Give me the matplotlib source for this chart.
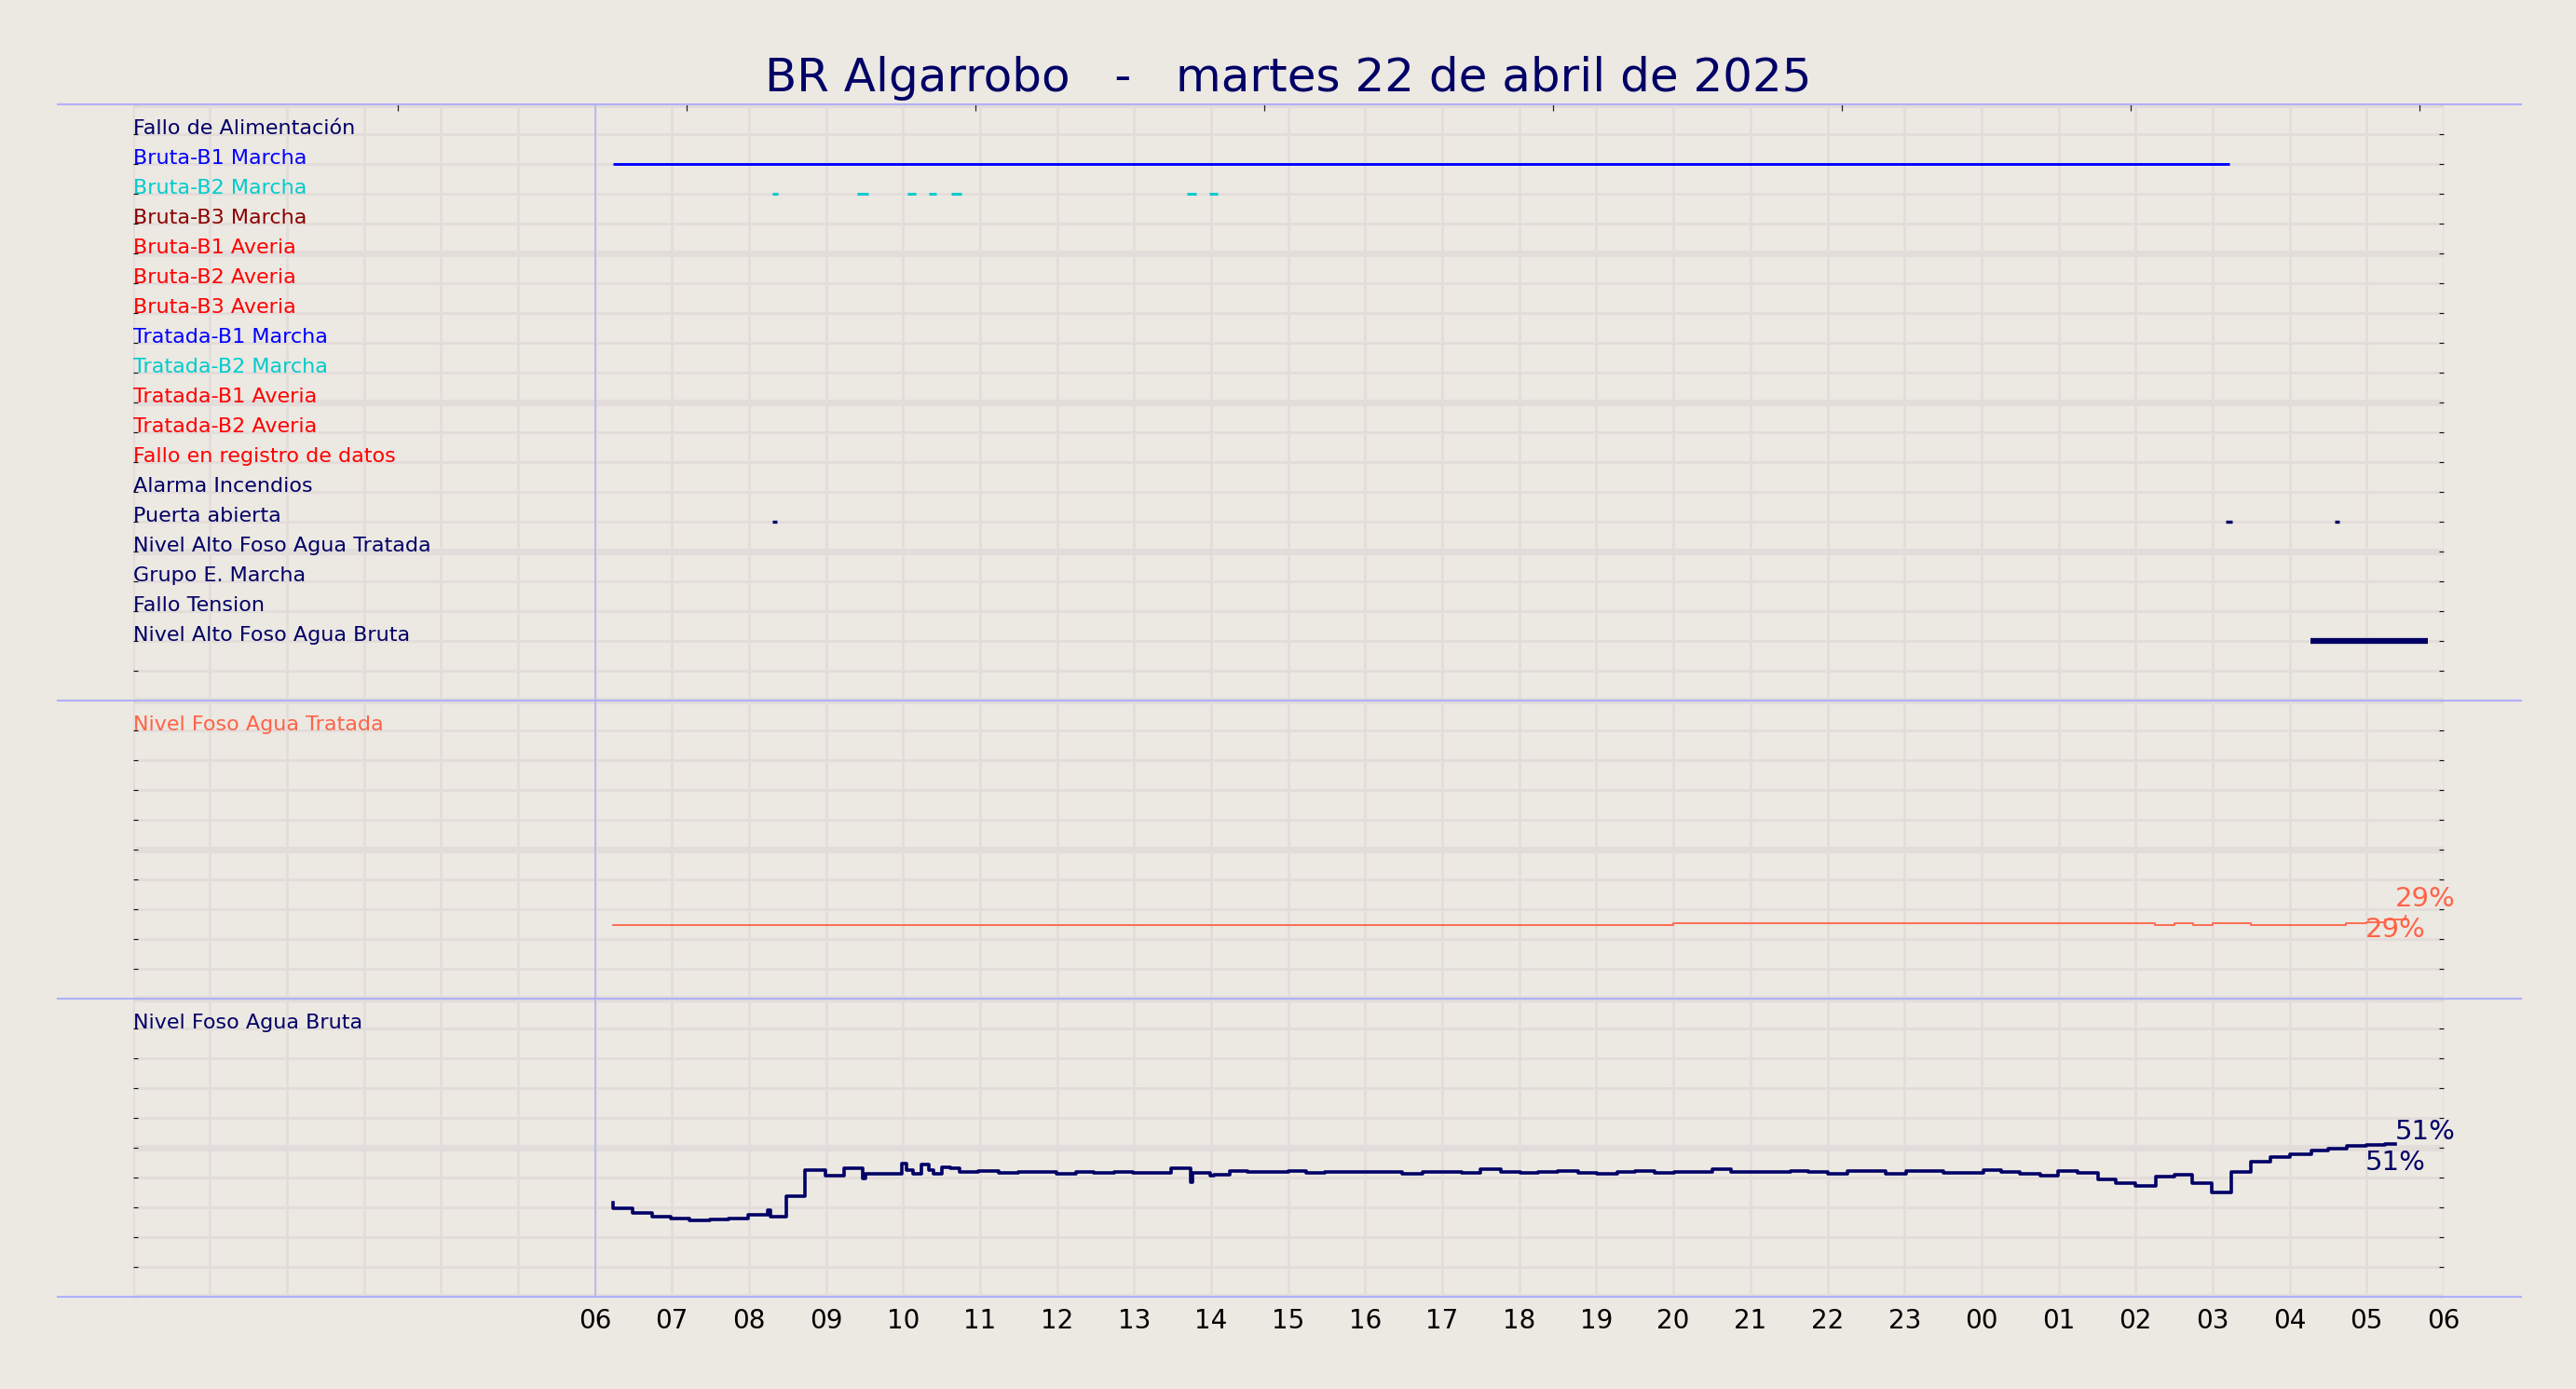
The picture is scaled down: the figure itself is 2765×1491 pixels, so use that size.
import matplotlib
matplotlib.use("Agg")
import matplotlib.pyplot as plt
import matplotlib.transforms as mtransforms
from matplotlib.lines import Line2D

# ---------------- data ----------------
title = "BR Algarrobo   -   martes 22 de abril de 2025"

signal_names = [
    "Fallo de Alimentación", "Bruta-B1 Marcha", "Bruta-B2 Marcha", "Bruta-B3 Marcha",
    "Bruta-B1 Averia", "Bruta-B2 Averia", "Bruta-B3 Averia", "Tratada-B1 Marcha",
    "Tratada-B2 Marcha", "Tratada-B1 Averia", "Tratada-B2 Averia",
    "Fallo en registro de datos", "Alarma Incendios", "Puerta abierta",
    "Nivel Alto Foso Agua Tratada", "Grupo E. Marcha", "Fallo Tension",
    "Nivel Alto Foso Agua Bruta",
]
signal_colors = [
    "#000066", "#0000ff", "#00cccc", "#8b0000",
    "#ff0000", "#ff0000", "#ff0000", "#0000ff",
    "#00cccc", "#ff0000", "#ff0000",
    "#ff0000", "#000066", "#000066",
    "#000066", "#000066", "#000066",
    "#000066",
]

# event intervals, hours since 00:00 of 22 April
bruta_b1_marcha = [(6.236, 27.22)]
bruta_b2_marcha = [(8.305, 8.37), (9.40, 9.55), (10.06, 10.17), (10.33, 10.43),
                   (10.63, 10.76), (13.69, 13.80), (13.98, 14.08)]
puerta_abierta = [(8.30, 8.36), (27.17, 27.26), (28.58, 28.64)]
nivel_alto_bruta = [(28.27, 29.80)]

# analog levels (%), step series
tratada_t = [6.24, 20.00, 26.25, 26.50, 26.75, 27.00, 27.50, 28.73, 29.00, 29.24, 29.50]
tratada_v = [24.8, 25.3, 24.8, 25.3, 24.8, 25.3, 24.9, 25.4, 25.8, 26.6, 27.8]

bruta_t = [6.23, 6.24, 6.49, 6.74, 6.99, 7.23, 7.49, 7.74, 7.99, 8.24, 8.28, 8.48,
           8.73, 8.99, 9.24, 9.47, 9.51, 9.98, 10.05, 10.13, 10.24, 10.33, 10.39,
           10.50, 10.61, 10.73, 10.98, 11.24, 11.49, 11.99, 12.24, 12.48, 12.74,
           12.98, 13.48, 13.73, 13.76, 13.99, 14.04, 14.24, 14.47, 15.00, 15.23,
           15.48, 16.48, 16.75, 17.25, 17.50, 17.76, 18.02, 18.25, 18.50, 18.76,
           19.01, 19.27, 19.50, 19.76, 20.01, 20.50, 20.75, 21.52, 21.75, 22.01,
           22.26, 22.75, 23.02, 23.50, 24.02, 24.25, 24.50, 24.76, 24.99, 25.25,
           25.51, 25.74, 26.00, 26.26, 26.50, 26.74, 26.99, 27.24, 27.50, 27.75,
           28.00, 28.28, 28.50, 28.74, 29.00, 29.24, 29.37]
bruta_v = [31.7, 29.9, 28.1, 27.0, 26.4, 25.8, 26.1, 26.5, 27.7, 29.1, 27.0, 34.0,
           42.6, 40.8, 43.2, 39.9, 41.5, 44.7, 42.7, 41.5, 44.5, 42.7, 41.3,
           43.7, 43.1, 42.0, 42.4, 41.7, 42.1, 41.4, 42.1, 41.6, 42.1,
           41.7, 43.1, 38.7, 41.8, 40.8, 41.2, 42.4, 42.0, 42.4, 41.6,
           42.1, 41.3, 42.1, 41.6, 43.0, 42.0, 41.6, 42.0, 42.3, 41.7,
           41.3, 42.0, 42.3, 41.7, 42.1, 42.8, 42.1, 42.3, 42.0, 41.3,
           42.3, 41.4, 42.3, 41.7, 42.5, 42.0, 41.5, 40.8, 42.3, 41.6,
           39.5, 38.4, 37.3, 40.5, 41.1, 38.4, 35.1, 42.0, 45.4, 47.0,
           48.0, 49.2, 49.8, 50.6, 50.9, 51.3, 51.3]

end_label_text = ["29%", "51%"]
end_label_value = [29, 51]

hour_ticks = list(range(0, 31))
hour_labels = ["", "", "", "", "", "",
               "06", "07", "08", "09", "10", "11", "12", "13", "14", "15", "16",
               "17", "18", "19", "20", "21", "22", "23", "00", "01", "02", "03",
               "04", "05", "06"]
top_ticks = [3.44, 7.19, 10.94, 14.69, 18.44, 22.19, 25.94, 29.69]
day_start = 6

# ---------------- style ----------------
BG = "#ece8e2"
GRID = "#e2dcda"
SEP = "#b0b0fa"
NAVY = "#000066"
TOMATO = "#ff6347"

W, H, DPI = 2765, 1491, 100
fig = plt.figure(figsize=(W / DPI, H / DPI), dpi=DPI, facecolor=BG)

left, width = 0.05154, 0.8971
bottom0, total_h = 0.0661, 0.8589
rh = total_h / 40.0

ax_top = fig.add_axes([left, bottom0 + 20 * rh, width, 20 * rh])
ax_mid = fig.add_axes([left, bottom0 + 10 * rh, width, 10 * rh])
ax_bot = fig.add_axes([left, bottom0, width, 10 * rh])


def style(ax, ymajor, yminor):
    ax.set_facecolor(BG)
    for s in ax.spines.values():
        s.set_visible(False)
    ax.set_xlim(0, 30)
    ax.set_xticks(hour_ticks)
    ax.set_yticks(ymajor)
    ax.set_yticks(yminor, minor=True)
    ax.grid(True, which="major", axis="x", color=GRID, lw=1.8)
    ax.grid(True, which="major", axis="y", color=GRID, lw=5.0)
    ax.grid(True, which="minor", axis="y", color=GRID, lw=2.0)
    ax.tick_params(axis="y", which="both", direction="in", left=True, right=True,
                   length=3.6, width=0.8, color="#111111", labelleft=False)
    ax.tick_params(axis="x", which="both", length=0, labelbottom=False)
    ax.set_axisbelow(True)
    ax.axvline(day_start, color=SEP, lw=1.1, zorder=1.5)


style(ax_top, [0, 5, 10, 15, 20], list(range(21)))
ax_top.set_ylim(20, 0)
style(ax_mid, [0, 50, 100], list(range(0, 101, 10)))
ax_mid.set_ylim(0, 100)
style(ax_bot, [0, 50, 100], list(range(0, 101, 10)))
ax_bot.set_ylim(0, 100)

ax_bot.set_xticklabels(hour_labels)
ax_bot.tick_params(axis="x", labelbottom=True, labelsize=20, pad=8, labelcolor="black")

# top tick marks
tw = ax_top.twiny()
tw.set_xlim(0, 30)
tw.set_xticks(top_ticks)
tw.tick_params(axis="x", direction="in", length=5, width=0.9, color="#222222",
               labeltop=False, top=True, bottom=False)
for s in tw.spines.values():
    s.set_visible(False)

# signal labels and events
for i, (name, col) in enumerate(zip(signal_names, signal_colors)):
    ax_top.text(0, i + 1, name, color=col, fontsize=16, ha="left", va="baseline")

events = {
    "Bruta-B1 Marcha": (bruta_b1_marcha, 2.1),
    "Bruta-B2 Marcha": (bruta_b2_marcha, 2.2),
    "Puerta abierta": (puerta_abierta, 2.4),
    "Nivel Alto Foso Agua Bruta": (nivel_alto_bruta, 4.5),
}
for name, (ivals, lw) in events.items():
    i = signal_names.index(name)
    for s, e in ivals:
        ax_top.plot([s, e], [i + 1, i + 1], color=signal_colors[i], lw=lw,
                    solid_capstyle="butt", zorder=3)

# analog panels
ax_mid.text(0, 90, "Nivel Foso Agua Tratada", color=TOMATO, fontsize=16,
            ha="left", va="baseline")
ax_bot.text(0, 90, "Nivel Foso Agua Bruta", color=NAVY, fontsize=16,
            ha="left", va="baseline")
ax_mid.plot(tratada_t, tratada_v, drawstyle="steps-post", color=TOMATO, lw=1.3, zorder=3)
ax_bot.plot(bruta_t, bruta_v, drawstyle="steps-post", color=NAVY, lw=2.6, zorder=3)

label_x = bruta_t[-1]
for ax, txt, val, col in zip([ax_mid, ax_bot], end_label_text, end_label_value, [TOMATO, NAVY]):
    ax.annotate(txt, (label_x, val), xytext=(0, 0), textcoords="offset points",
                ha="left", va="bottom", fontsize=21, color=col, zorder=4)
    ax.annotate(txt, (label_x, val), xytext=(0, -3.6), textcoords="offset points",
                ha="center", va="top", fontsize=21, color=col, zorder=4)

# separator lines
x0, x1 = 62 / W, 2706 / W
for ax, yy in [(ax_top, 1), (ax_top, 0), (ax_mid, 0), (ax_bot, 0)]:
    tr = mtransforms.blended_transform_factory(fig.transFigure, ax.transAxes)
    fig.add_artist(Line2D([x0, x1], [yy, yy], transform=tr, color=SEP, lw=1.5, zorder=5))

fig.text(0.5, 1 - 97.7 / H, title, ha="center", va="baseline", fontsize=36, color=NAVY)

fig.savefig("out.png", dpi=DPI, facecolor=BG)
